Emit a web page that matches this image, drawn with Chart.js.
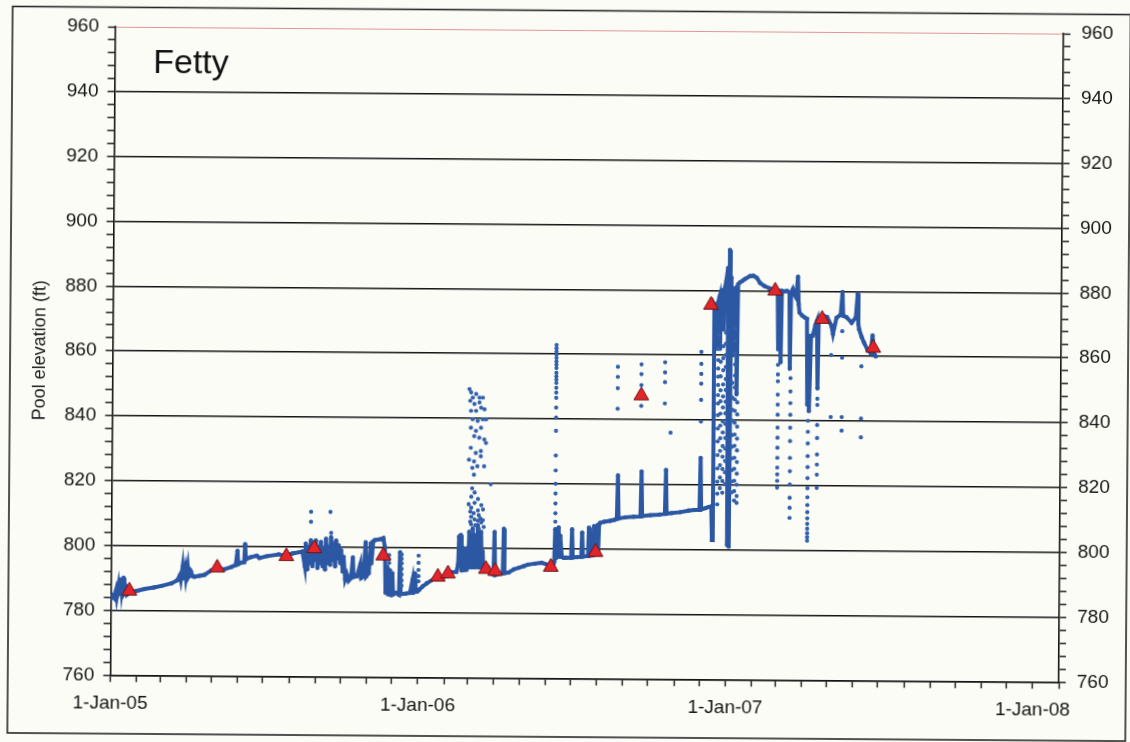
<!DOCTYPE html>
<html>
<head>
<meta charset="utf-8">
<title>Fetty pool elevation</title>
<script src="https://cdn.jsdelivr.net/npm/chart.js@4.4.1/dist/chart.umd.min.js"></script>
<style>
  html, body { margin: 0; padding: 0; background: #fcfcf7; overflow: hidden; }
  #sheet { width: 1130px; height: 742px; transform: rotate(0.42deg); transform-origin: 565px 371px; }
  canvas { display: block; }
</style>
</head>
<body>
<div id="sheet"><canvas id="chart" width="1130" height="742"></canvas></div>
<script>
// Days are counted from 1-Jan-05; levels are pool elevation in feet.

// Continuous logger record, 2005
const record2005 = [
  [0,783.5],[2,784.5],[4,783.8],[6,786],[7,784],[9,787.5],[10,785],[12,789.5],[13,786],[15,790],
  [16,785.5],[18,786.5],[19,784.8],[22,785.5],[26,785.8],[31,786],[40,786.6],[51,787.1],[60,787.6],
  [72,788.4],[79,789.4],[82,791],[83,789.6],[85,793.5],[86,790],[88,792.8],[89,790.2],[91,793.6],
  [92,790.5],[95,792],[97,790.6],[99,790.5],[105,790.8],[111,791.1],[119,792.5],[126,793.3],
  [134,792.8],[143,793.6],[148,794.2],[150,798.6],[151,794.5],[155,795],[158,795.1],[159,800.7],
  [160,796],[165,796.6],[173,797.1],[176,796.4],[185,797],[199,797.6],[208,797],[215,797.9],
  [227,798.5],[230,794],[231,801],[233,793],[234,800],[236,795],[237,802],[239,794],[240,799.5],
  [242,796],[243,802],[245,793.5],[246,800],[248,795],[249,801.5],[251,794],[252,799],[254,793],
  [255,802.5],[257,795],[258,800],[260,794.5],[261,803],[263,796],[264,801],[266,794],[267,802],
  [269,796.5],[270,800.5],[272,795],[273,799],[275,792.5],[276,797],[278,790],[280,791.5],
  [282,789.6],[285,790.5],[287,796.8],[288,790.8],[292,791],[296,794.8],[297,790.5],[300,791],
  [302,801.5],[303,791],[306,792],[308,801.2],[309,795],[311,801.8],[313,802.2],[317,802.4],
  [320,802.5],[323,802.8],[325,800],[326,786],[328,794],[329,785.5],[331,793],[332,785.3],
  [334,792],[335,785.5],[338,786],[342,785.4],[343,798.5],[344,785.6],[350,785.8],[355,786],
  [358,790],[359,786],[361,792],[362,786.5],[364,786.5]
];

// Continuous logger record, 2006
const record2006 = [
  [366,787],[370,788],[375,789],[384,790.5],[392,790.6],[400,791.5],[404,792.5],[410,792.6],
  [412,795],[413,803.5],[414,797],[415,804],[416,793],[418,800],[419,793.2],[422,793.3],[423,800],
  [424,794],[425,805],[426,795],[427,803],[428,794],[429,806],[430,796],[431,802],[432,794],
  [433,804],[434,795],[435,807],[436,794],[437,801],[438,795],[439,805],[440,794],[441,799],
  [442,793.5],[445,793.5],[448,794],[452,792],[454,792],[455,805],[456,791.7],[460,792],
  [465,792.2],[466,806],[467,792.3],[472,792.5],[478,793.5],[484,794],[490,794.5],[495,795],
  [503,795.3],[511,795.6],[518,795],[522,794.3],[525,794.5],[526,796],[527,806],[528,797],
  [529,805],[530,798],[531,806.5],[532,797.5],[533,804],[535,797.5],[537,797.2],[540,797.2],
  [546,797.2],[547,806],[548,797.3],[553,797.4],[558,797.5],[559,805],[560,797.6],[566,797.8],
  [567,806.5],[568,797.9],[572,798],[573,807],[574,798.2],[577,807.3],[578,798.5],[579,807.5],
  [580,808],[585,808.4],[592,808.7],[597,809],[600,809.3],[601,822.7],[602,809.4],[610,809.8],
  [620,810],[628,810.1],[629,824],[630,810.2],[640,810.5],[650,810.7],[657,811],[658,824.5],
  [659,811],[665,811.2],[675,811.5],[685,812],[692,812.2],[698,812.3],[699,828.3],[700,812.4],
  [705,812.8],[709,813.2],[712,813.4],[713,803],[714,875.5],[716,874.5],[717,862],[718,876],
  [720,878],[721,862],[722,879.5],[724,880],[725,868],[726,880.5],[728,883]
];

// Continuous logger record, 2007
const record2007 = [
  [730,887],[731,801.5],[732,892.5],[733,801],[734,884],[736,860],[738,880.5],[740,881],
  [741,848],[742,882],[744,882.5],[747,883],[750,883.6],[756,884.5],[760,884.6],[764,884],
  [768,882.4],[773,881.5],[779,880.8],[784,880.3],[787,880],[789,880],[790,862],[791,879.5],
  [793,858],[794,880],[796,879.8],[800,880],[803,879.5],[804,856],[805,879.5],[807,880.6],
  [809,879],[811,878],[813,884.4],[814,876],[815,873.4],[818,872.5],[821,871.9],[824,871.5],
  [825,845],[826,866],[827,843],[829,866.2],[831,866.2],[834,869.5],[836,870.9],[837,850],
  [838,871.5],[843,872.5],[848,872],[853,869.4],[855,866.8],[859,871.8],[864,872.8],[866,879.8],
  [867,872.5],[871,872],[877,870.3],[882,872],[884,879.3],[885,870],[886,868.3],[889,866],
  [892,864.2],[896,862.1],[900,861],[902,866.5],[904,861],[906,860]
];

// Scattered single readings, grouped by day
const readingDays = [
  237, 260, 261, 330, 345, 365,
  424, 425, 426, 427, 428, 430, 431, 432, 434, 435, 436, 438, 439, 440, 441, 442, 444, 450,
  527, 600, 628, 656, 663, 699,
  719, 722, 725, 728, 736, 739, 742,
  790, 805, 826, 837, 853, 866, 889
];
const readingLevels = [
  [807.7, 810.8], [810.8], [804.3], [797.6, 796.4, 795.2],
  [797.8, 796.5, 795.1, 793.4, 791.6, 789.8, 788.2], [797.5, 795.3, 793.1, 791.2, 789.6],
  [849.0, 827.2, 813.5], [845.4], [848.0, 842.3, 837.1, 830.9, 811.2, 808.1],
  [815.8, 812.4, 809.6, 807.3], [846.4, 839.7, 824.7, 818.4, 805.0],
  [844.4, 834.5, 826.7, 822.6, 810.7], [817.1, 813.9, 808.8], [847.5, 842.3, 836.1, 829.3, 807.0],
  [839.2, 825.2], [815.1, 811.6, 808.4], [846.4, 844.9, 834.0, 810.1, 806.0],
  [843.3, 837.1, 829.9, 828.3, 809.1], [813.2, 807.9], [846.4, 839.7], [811.9, 808.6],
  [842.8, 833.5, 825.2, 806.5], [839.7, 832.4], [819.7],
  [862.8, 861.8, 860.8, 859.8, 858.8, 857.7, 856.7, 855.7, 854.2, 853.1, 852.1, 851.1, 849.6,
   848.1, 846.5, 843.5, 840.4, 836.3, 828.7, 824.1, 820, 817, 813.9, 810.9, 808.3],
  [856.2, 853.1, 849.6, 843.3], [857, 854, 850.6, 844.2], [857.7, 854.6, 851.6, 845], [836],
  [861, 857.3, 854.2, 851.2, 846.2, 839.5],
  [866.4, 862.1, 858.5, 855.9, 853.4, 850.8, 847.7, 845.1, 841.5, 837.4, 833.4, 829.2, 825.1, 821, 817.3, 814],
  [858, 853.5, 849.2, 845.8, 842, 838.3, 834.4, 830.5, 826.1, 822.3, 819],
  [862.8, 859.1, 855.4, 851, 847.3, 843.9, 839.6, 836.2, 832, 828.7, 824.9, 821.2, 817.6],
  [871.2, 867, 863.6, 860.1, 856.4, 852.7, 849.3, 845.7, 842.1, 838.8, 834.5, 831.2, 827.4, 823.9, 820.2],
  [851.5, 847, 843.2, 839.9, 835.4, 831.8, 828.2, 824.6, 821.1, 817.7],
  [868.3, 864.5, 860.7, 857.2, 853.8, 850.1, 846.4, 842.9, 839.2, 835.6, 832.1, 828.4, 825, 821.3, 818.1, 815.2],
  [845.5, 841.8, 838, 834.3, 830.7, 827.1, 823.5, 820.1, 816.6, 814.5],
  [857.2, 854.2, 852.1, 848, 844.9, 841.8, 837.8, 834.7, 831.6, 828.5, 825.5, 823.4, 821.4, 819.3],
  [853.1, 849, 845.4, 841.8, 837.8, 833.7, 828.5, 824.4, 820.3, 816.2, 813.1, 810],
  [840, 836.6, 833, 829.1, 825.7, 822.3, 819.2, 816.4, 814, 811.8, 809.9, 808.2, 806.7, 805.3, 804.1, 803],
  [846.8, 844.9, 838.7, 834.7, 829.6, 826.5, 823.4, 819.3],
  [860.3, 841.2], [867.7, 859.5, 841.2, 837], [856.9, 840.8, 835]
];

// Manual survey readings (red triangles)
const surveyDays   = [22, 126, 208, 241, 323, 388, 400, 445, 456, 522, 575, 628, 710, 786, 842, 903];
const surveyLevels = [786, 793.3, 797, 799.5, 797.4, 791, 792, 793.5, 792.9, 794.3, 799, 847.4, 875.5, 880, 871.4, 862.6];

// Axis labelling
const elevationTicks = [760, 780, 800, 820, 840, 860, 880, 900, 920, 940, 960];
const yearTickDays   = [0, 365, 730, 1095];
const yearTickLabels = ['1-Jan-05', '1-Jan-06', '1-Jan-07', '1-Jan-08'];
const axisEndDay = 1126; // 1-Feb-08

const DAY_MS = 86400000;
const origin = Date.UTC(2005, 0, 1);
const monthStarts = [];
for (let y = 2005; y <= 2008; y++) {
  for (let m = 0; m < 12; m++) {
    const d = Math.round((Date.UTC(y, m, 1) - origin) / DAY_MS);
    if (d <= axisEndDay) monthStarts.push(d);
  }
}

const toPoints = rows => rows.map(([d, v]) => ({ x: d, y: v }));
const recordPoints = toPoints(record2005.concat(record2006, record2007));
const readingPoints = [];
readingDays.forEach((d, i) => readingLevels[i].forEach(v => readingPoints.push({ x: d, y: v })));
const surveyPoints = surveyDays.map((d, i) => ({ x: d, y: surveyLevels[i] }));

const INK = '#141414';
const FONT = '"Liberation Sans", Arial, Helvetica, sans-serif';

const sheetPlugin = {
  id: 'sheet',
  beforeDraw(chart) {
    const ctx = chart.ctx;
    ctx.save();
    ctx.fillStyle = '#fcfcf7';
    ctx.fillRect(0, 0, chart.width, chart.height);
    ctx.strokeStyle = '#262626';
    ctx.lineWidth = 1.6;
    ctx.strokeRect(10, 10.5, 1118, 726.5);
    ctx.restore();
  },
  afterDraw(chart) {
    const { ctx, chartArea } = chart;
    ctx.save();
    ctx.font = '34px ' + FONT;
    ctx.fillStyle = '#111';
    ctx.textBaseline = 'alphabetic';
    ctx.textAlign = 'left';
    ctx.fillText('Fetty', chartArea.left + 38.5, chartArea.top + 45.7);
    ctx.restore();
  }
};

function elevationAxis(position, padding, width) {
  return {
    type: 'linear',
    position,
    min: 760,
    max: 960,
    ticks: {
      stepSize: 4,
      autoSkip: false,
      padding,
      color: INK,
      font: { family: FONT, size: 19 },
      callback: v => elevationTicks.includes(v) ? String(v) : ''
    },
    grid: {
      drawOnChartArea: position === 'left',
      color: c => c.tick.value === 960 ? 'rgba(214,118,118,0.75)'
                 : (c.tick.value % 20 === 0 ? INK : 'rgba(0,0,0,0)'),
      lineWidth: c => c.tick.value === 960 ? 1 : 1.5,
      drawTicks: true,
      tickLength: 7,
      tickColor: INK,
      tickWidth: 1.4
    },
    border: { display: true, color: INK, width: 1.6 },
    title: position === 'left' ? {
      display: true,
      text: 'Pool elevation (ft)',
      color: '#1e1e1e',
      font: { family: FONT, size: 18 },
      padding: { top: 29, bottom: 0 }
    } : { display: false },
    afterFit: s => { s.width = width; }
  };
}

new Chart(document.getElementById('chart'), {
  type: 'scatter',
  data: {
    datasets: [
      {
        label: 'Survey',
        data: surveyPoints,
        pointStyle: 'triangle',
        pointRadius: 8.5,
        backgroundColor: '#e3252b',
        borderColor: '#6b1414',
        borderWidth: 1,
        order: 0
      },
      {
        label: 'Readings',
        data: readingPoints,
        pointRadius: 2.1,
        backgroundColor: '#3260ab',
        borderWidth: 0,
        order: 1
      },
      {
        label: 'Record',
        data: recordPoints,
        showLine: true,
        tension: 0,
        borderColor: '#2b57a3',
        borderWidth: 4,
        pointRadius: 2.2,
        pointBackgroundColor: '#2b57a3',
        pointBorderWidth: 0,
        order: 2
      }
    ]
  },
  options: {
    responsive: false,
    animation: false,
    devicePixelRatio: 1,
    layout: { padding: { top: 30, left: 0, right: 0, bottom: 0 } },
    plugins: { legend: { display: false }, tooltip: { enabled: false } },
    scales: {
      x: {
        type: 'linear',
        min: 0,
        max: axisEndDay,
        afterBuildTicks: s => { s.ticks = monthStarts.map(v => ({ value: v })); },
        ticks: {
          autoSkip: false,
          maxRotation: 0,
          minRotation: 0,
          padding: 10,
          color: INK,
          font: { family: FONT, size: 19 },
          callback: v => {
            const i = yearTickDays.indexOf(v);
            return i >= 0 ? yearTickLabels[i] : '';
          }
        },
        grid: { drawOnChartArea: false, drawTicks: true, tickLength: 7, tickColor: INK, tickWidth: 1.4 },
        border: { display: true, color: INK, width: 1.6 },
        afterFit: s => { s.height = 63.7; }
      },
      y: elevationAxis('left', 9, 112.5),
      y2: elevationAxis('right', 11, 69)
    }
  },
  plugins: [sheetPlugin]
});
</script>
</body>
</html>
